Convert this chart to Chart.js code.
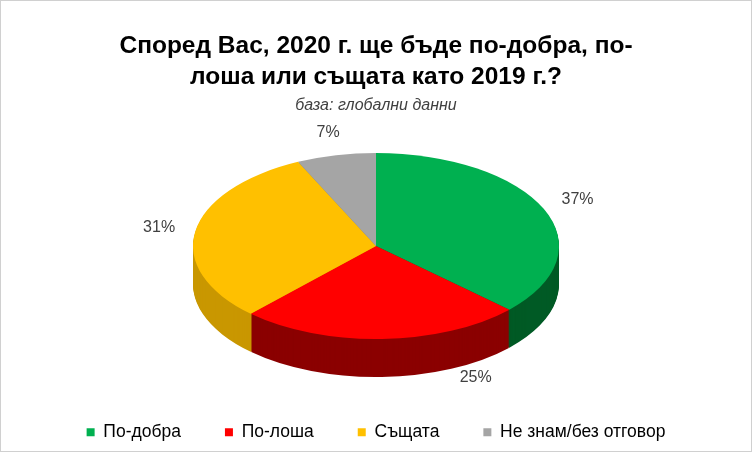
<!DOCTYPE html>
<html><head><meta charset="utf-8">
<script src="https://cdn.jsdelivr.net/npm/chart.js@4/dist/chart.umd.min.js"></script>
<style>html,body{margin:0;padding:0;background:#fff}#w{position:absolute;left:0;top:0;width:750px;height:450px;border:1px solid #d0d0d0}</style>
</head><body><div id="w"><canvas id="c" width="750" height="450"></canvas></div>
<script>
const categories = ['По-добра','По-лоша','Същата','Не знам/без отговор'];
const values = [37,25,31,7];
const colors = ['#00b050','#ff0000','#ffc000','#a5a5a5'];
const sideColors = ['#005a25','#8b0000','#c99700','#7a7a7a'];
const labelAngleFrac = [0.5,0.22,0.5,0.5];
const CX=375, CY=245, RX=183, RY=93, DEPTH=38;
const pie3d = {
  id:'pie3d',
  beforeDatasetsDraw(chart){
    const ctx=chart.ctx, meta=chart.getDatasetMeta(0);
    const el0=meta.data[0]; const R=el0.outerRadius, x0=el0.x, y0=el0.y;
    const drawAll=(dy,cols)=>{
      ctx.save();
      ctx.translate(CX,CY+dy); ctx.scale(RX/R,RY/R); ctx.translate(-x0,-y0);
      meta.data.forEach((el,i)=>{
        const o=el.options, bg=o.backgroundColor, bc=o.borderColor;
        o.backgroundColor=cols[i]; o.borderColor=cols[i];
        el.draw(ctx);
        o.backgroundColor=bg; o.borderColor=bc;
      });
      ctx.restore();
    };
    for(let d=DEPTH; d>0; d--) drawAll(d, sideColors);
    drawAll(0, colors);
    ctx.save();
    ctx.font='16px "Liberation Sans", Arial, sans-serif';
    ctx.fillStyle='#404040'; ctx.textAlign='center'; ctx.textBaseline='middle';
    meta.data.forEach((el,i)=>{
      const a=el.startAngle+(el.endAngle-el.startAngle)*labelAngleFrac[i];
      let x=CX+Math.cos(a)*RX*1.2, y=CY+Math.sin(a)*RY*1.25;
      if(Math.sin(a)>0) y+=DEPTH*0.75;
      ctx.fillText(values[i]+'%', x, y);
    });
    ctx.restore();
    return false;
  }
};
new Chart(document.getElementById('c'),{
  type:'pie',
  data:{labels:categories,datasets:[{data:values,backgroundColor:colors,borderWidth:0}]},
  options:{
    responsive:false,animation:false,
    plugins:{
      title:{display:true,text:['Според Вас, 2020 г. ще бъде по-добра, по-','лоша или същата като 2019 г.?'],
        color:'#000',font:{family:'"Liberation Sans", Arial',size:24.5,weight:'bold',lineHeight:1.25},padding:{top:30,bottom:4}},
      subtitle:{display:true,text:'база: глобални данни',color:'#404040',
        font:{family:'"Liberation Sans", Arial',size:16,style:'italic'},padding:{bottom:10}},
      legend:{position:'bottom',labels:{usePointStyle:true,pointStyle:'rect',boxWidth:8,boxHeight:8,padding:44,
        color:'#000',font:{family:'"Liberation Sans", Arial',size:17.5}}},
      tooltip:{enabled:false}
    }
  },
  plugins:[pie3d]
});
</script></body></html>
